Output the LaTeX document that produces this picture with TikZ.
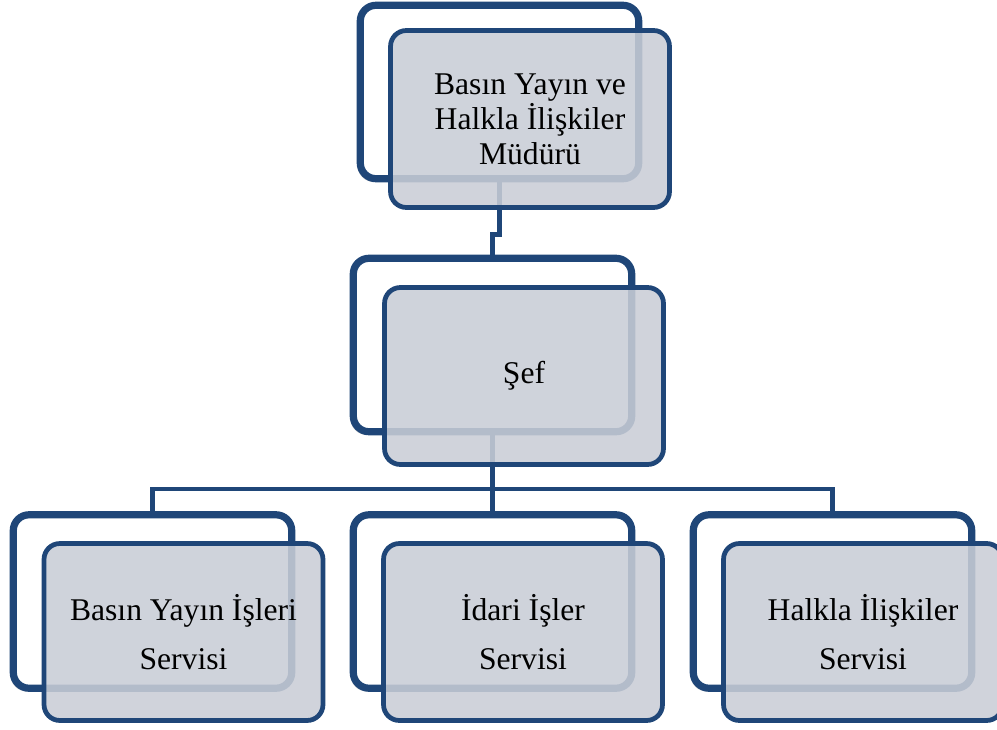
\documentclass[tikz,border=0pt]{standalone}
\usepackage{fontspec}
\setmainfont{Liberation Serif}
\usepackage{tikz}
\usetikzlibrary{shadows, positioning}
\definecolor{navy}{RGB}{31,70,120}
\definecolor{slate}{RGB}{201,205,214}
\tikzstyle{frame}=[rectangle, rounded corners=9pt, draw=navy, line width=4.1pt, fill=white, minimum width=5.57cm, minimum height=3.47cm, drop shadow={shadow xshift=-1.5pt, shadow yshift=-1.8pt, opacity=0.35}]
\tikzstyle{card}=[rectangle, rounded corners=9pt, draw=navy, line width=2.7pt, fill=slate, fill opacity=0.875, text opacity=1, minimum width=5.58cm, minimum height=3.54cm, align=center, font=\fontsize{18}{19.9}\selectfont]
\tikzstyle{loose}=[font=\fontsize{18}{27.8}\selectfont]
\tikzstyle{link}=[draw=navy, line width=2.6pt]

\begin{document}
\begin{tikzpicture}[x=0.02cm, y=-0.02cm]
          \useasboundingbox (0,0) rectangle (997,730);
          \node[frame] (mudurB) at (499.5,92) {};
          \node[frame] (sefB) at (492.5,345) {};
          \node[frame] (basinB) at (152.5,601.5) {};
          \node[frame] (idariB) at (492.5,601.5) {};
          \node[frame] (halklaB) at (832.5,601.5) {};

          \coordinate (bus) at (492.5,489);
          \draw[link] (mudurB.south) -- ++(0,52) -| (sefB.north);
          \draw[link] (sefB.south) -- (bus);
          \draw[link] (basinB.north) |- (bus) -| (halklaB.north);
          \draw[link] (bus) -- (idariB.north);

          \node[card] (mudur) at (530,119) {Basın Yayın ve\\Halkla İlişkiler\\Müdürü};
          \node[card] (sef) at (524,376) {Şef};
          \node[card, loose] (basin) at (183.5,632) {Basın Yayın İşleri\\Servisi};
          \node[card, loose] (idari) at (523,632) {İdari İşler\\Servisi};
          \node[card, loose] (halkla) at (863,632) {Halkla İlişkiler\\Servisi};
        \end{tikzpicture}
\end{document}
